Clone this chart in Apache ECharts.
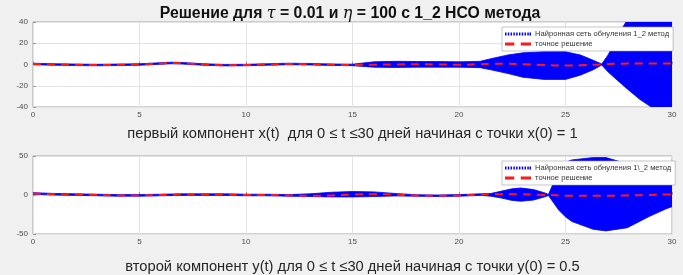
<!DOCTYPE html>
<html>
<head>
<meta charset="utf-8">
<script src="https://cdn.jsdelivr.net/npm/echarts@6/dist/echarts.min.js"></script>
<style>
html, body { margin: 0; padding: 0; background: #f0f0f0; }
#chart { width: 683px; height: 275px; }
</style>
</head>
<body>
<div id="chart"></div>
<script>
// first component x(t)
var tX = [0, 1, 2, 3, 4, 5, 6, 6.5, 7, 8, 9, 10, 11, 12, 13, 14, 15, 16, 17, 18, 19, 20,
          21, 21.5, 22.3, 23, 24, 25, 25.7, 26.3, 26.7, 27, 27.5, 27.9, 28.5, 29.1, 30];
var xExact = [0.5, 0, -0.3, -0.5, -0.3, 0, 1, 1.5, 1.2, 0, -0.6, -0.5, 0, 0.5, 0.3, -0.2, -0.4, -0.2, 0, 0.2, 0, -0.2,
              0.3, 0.6, 0.8, 0.3, -0.5, -1, -0.8, -0.3, 0, 0.4, 0.7, 0.9, 1, 1, 1];
var xUpper = [1.2, 0.7, 0.4, 0.2, 0.4, 0.7, 1.7, 2.2, 1.9, 0.7, 0.1, 0.2, 0.7, 1.2, 1.0, 0.5, 0.3, 2.5, 3, 2.8, 2.8, 2.5,
              3, 5.5, 9, 11, 12, 12, 9, 4, 0.5, 9, 29, 42, 45, 45, 45];
var xLower = [-0.2, -0.7, -1.0, -1.2, -1.0, -0.7, 0.3, 0.8, 0.5, -0.7, -1.3, -1.2, -0.7, -0.2, -0.4, -0.9, -1.1, -2.5, -2.8, -2.5, -2.5, -2.5,
              -3, -5, -8.5, -12, -14, -14, -10, -5, -0.5, -7, -16, -23, -33, -41, -45];

// second component y(t)
var tY = [0, 1, 2, 3, 4, 5, 6, 7, 8, 9, 10, 11, 12, 13, 14, 15, 16, 17, 18, 19, 20,
          21, 21.5, 22, 22.5, 22.9, 23.5, 24, 24.2, 24.7, 25, 25.3, 26.3, 26.9, 27.9, 28.9, 29.7, 30];
var yExact = [2, 1, 0.5, 0, -0.5, -0.5, 0, 0.5, 0.5, 0.5, 0, 0, -0.5, -1, -0.5, 0.5, 1, 0.5, -0.5, -1, -0.5,
              0.5, 1, 1, 1, 1, 0.5, 0, 0, -0.5, -1, -1, -1, -1, -0.5, 0, 0.5, 0.5];
var yUpper = [3, 2, 1.5, 1, 0.5, 0.5, 1, 1.5, 1.5, 1.5, 1, 1, 0.5, 1.5, 3.5, 4.5, 4, 2, 0.3, 0, 0.5,
              1.5, 2, 5, 8, 9, 7, 3, 0.8, 32, 42, 45, 48, 48, 40, 30, 20, 15];
var yLower = [1, 0, -0.5, -1, -1.5, -1.5, -1, -0.5, -0.5, -0.5, -1, -1, -1.5, -2, -2.5, -2.5, -2, -1.2, -1.5, -2, -1.5,
              -0.5, -1.5, -4, -7, -8, -6.5, -2.5, -0.8, -20, -28, -34, -44, -46, -42, -28, -18, -15];

var nnTop = 'Найронная сеть обнуления 1_2 метод';
var nnBottom = 'Найронная сеть обнуления 1\\_2 метод';
var exactName = 'точное решение';

var FONT = 'Liberation Sans, Arial, sans-serif';
var BLUE = '#0000ff';
var RED = '#ff1a1a';

function pairs(t, v) {
    return t.map(function (ti, i) { return [ti, v[i]]; });
}

var dotIcon = 'path://M0,0h1.6v3h-1.6z M3,0h1.6v3h-1.6z M6,0h1.6v3h-1.6z M9,0h1.6v3h-1.6z M12,0h1.6v3h-1.6z M15,0h1.6v3h-1.6z M18,0h1.6v3h-1.6z M21,0h1.6v3h-1.6z M24,0h1.6v3h-1.6z M26.4,0h1.6v3h-1.6z';
var dashIcon = 'path://M0,0h10v3h-10z M17,0h11v3h-11z';

function xAxisCfg(gridIndex, name, gap) {
    return {
        type: 'value', gridIndex: gridIndex, min: 0, max: 30, interval: 5,
        name: name, nameLocation: 'middle', nameGap: gap,
        nameTextStyle: { fontSize: 14.7, color: '#262626', fontFamily: FONT },
        axisLine: { show: false },
        axisTick: { show: true, inside: true, length: 3, lineStyle: { color: '#999' } },
        axisLabel: { fontSize: 8, color: '#4d4d4d', margin: 4, fontFamily: FONT },
        splitLine: { show: true, lineStyle: { color: '#e3e3e3', width: 1 } }
    };
}
function yAxisCfg(gridIndex, lim, step) {
    return {
        type: 'value', gridIndex: gridIndex, min: -lim, max: lim, interval: step,
        axisLine: { show: false },
        axisTick: { show: true, inside: true, length: 3, lineStyle: { color: '#999' } },
        axisLabel: { fontSize: 8, color: '#4d4d4d', margin: 5, fontFamily: FONT },
        splitLine: { show: true, lineStyle: { color: '#e3e3e3', width: 1 } }
    };
}

// the network's fast oscillation is drawn as its envelope: one polygon between the upper and lower edge
function bandSeries(idx, t, lo, hi, name) {
    return {
        type: 'custom', xAxisIndex: idx, yAxisIndex: idx, name: name,
        clip: true, z: 2, itemStyle: { color: BLUE },
        encode: { x: 0, y: [1, 2] },
        data: t.map(function (ti, i) { return [ti, lo[i], hi[i]]; }),
        renderItem: function (params, api) {
            if (params.dataIndex !== 0) return null;
            var pts = [];
            for (var i = 0; i < t.length; i++) pts.push(api.coord([t[i], hi[i]]));
            for (var j = t.length - 1; j >= 0; j--) pts.push(api.coord([t[j], lo[j]]));
            return {
                type: 'polygon',
                shape: { points: pts },
                style: { fill: BLUE, stroke: BLUE, lineWidth: 0.8 }
            };
        }
    };
}
function exactSeries(idx, t, v) {
    return {
        type: 'line', xAxisIndex: idx, yAxisIndex: idx, name: exactName,
        data: pairs(t, v), symbol: 'none', smooth: true, z: 3,
        lineStyle: { color: RED, width: 2, type: [8, 6] }, itemStyle: { color: RED }
    };
}

function legendCfg(top, nnName) {
    return {
        left: 502, top: top, orient: 'vertical', selectedMode: false, z: 10,
        padding: [3, 4, 3, 3], itemGap: 2, itemWidth: 26, itemHeight: 3,
        backgroundColor: '#ffffff', borderColor: '#a0a0a0', borderWidth: 0.6,
        textStyle: { fontSize: 7.6, color: '#333', fontFamily: FONT, padding: [0, 0, 0, -1] },
        data: [
            { name: nnName, icon: dotIcon, itemStyle: { color: BLUE } },
            { name: exactName, icon: dashIcon, itemStyle: { color: RED } }
        ]
    };
}

var chart = echarts.init(document.getElementById('chart'), null, { renderer: 'canvas' });
chart.setOption({
    backgroundColor: '#f0f0f0',
    animation: false,
    title: {
        text: 'Решение для {i|τ} = 0.01 и {i|η} = 100 с 1_2 НСО метода',
        left: 345, top: 1, textAlign: 'center',
        textStyle: {
            fontSize: 15.8, fontWeight: 'bold', color: '#111', fontFamily: FONT,
            rich: { i: { fontSize: 16, fontStyle: 'italic', fontWeight: 'normal', color: '#111', fontFamily: 'DejaVu Serif, serif' } }
        }
    },
    grid: [
        { left: 33, top: 22, width: 639, height: 85, show: true, backgroundColor: '#ffffff', borderColor: '#a6a6a6', borderWidth: 1 },
        { left: 33, top: 156, width: 639, height: 85, show: true, backgroundColor: '#ffffff', borderColor: '#a6a6a6', borderWidth: 1 }
    ],
    xAxis: [
        xAxisCfg(0, 'первый компонент x(t)  для 0 ≤ t ≤30 дней начиная с точки x(0) = 1', 19),
        xAxisCfg(1, 'второй компонент y(t) для 0 ≤ t ≤30 дней начиная с точки y(0) = 0.5', 25)
    ],
    yAxis: [
        yAxisCfg(0, 40, 20),
        yAxisCfg(1, 50, 50)
    ],
    legend: [legendCfg(27, nnTop), legendCfg(161, nnBottom)],
    series: [
        bandSeries(0, tX, xLower, xUpper, nnTop),
        exactSeries(0, tX, xExact),
        bandSeries(1, tY, yLower, yUpper, nnBottom),
        exactSeries(1, tY, yExact)
    ]
});
</script>
</body>
</html>
